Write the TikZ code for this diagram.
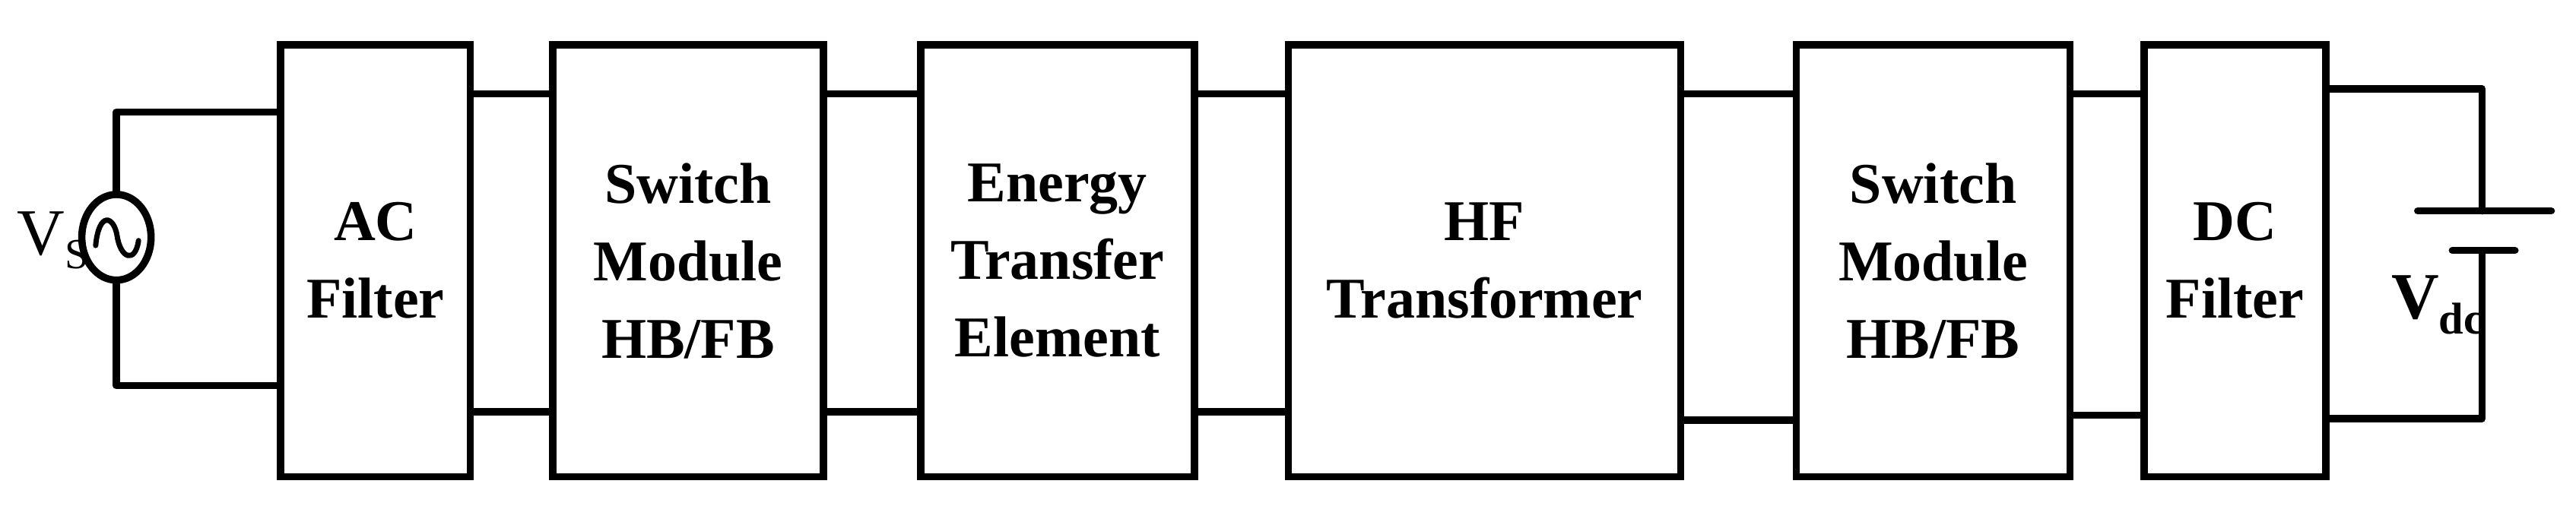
\documentclass[tikz,border=0pt]{standalone}
\usepackage{fontspec}
\usetikzlibrary{shapes.geometric}
\setmainfont{Liberation Serif}
\begin{document}
\begin{tikzpicture}[x=1pt,y=-1pt,line width=4.4pt,
  blk/.style={draw,rectangle,anchor=north west,inner sep=0pt,align=center,font=\fontsize{35}{47}\selectfont\bfseries},
  wire/.style={line cap=round,line join=round}]
\useasboundingbox (0,0) rectangle (1562,307);
\node[blk,minimum width=115pt,minimum height=262pt] (ac) at (168,25) {AC\\Filter};
\node[blk,minimum width=164pt,minimum height=262pt] (sm1) at (333,25) {Switch\\Module\\HB/FB};
\node[blk,minimum width=166pt,minimum height=262pt] (ete) at (556,25) {Energy\\Transfer\\Element};
\node[blk,minimum width=238pt,minimum height=262pt] (hf) at (779,25) {HF\\Transformer};
\node[blk,minimum width=166pt,minimum height=262pt] (sm2) at (1087,25) {Switch\\Module\\HB/FB};
\node[blk,minimum width=110pt,minimum height=262pt] (dc) at (1298,25) {DC\\Filter};
% interconnects
\draw (ac.east |- 0,57) -- (sm1.west |- 0,57);
\draw (ac.east |- 0,250) -- (sm1.west |- 0,250);
\draw (sm1.east |- 0,57) -- (ete.west |- 0,57);
\draw (sm1.east |- 0,250) -- (ete.west |- 0,250);
\draw (ete.east |- 0,57) -- (hf.west |- 0,57);
\draw (ete.east |- 0,250) -- (hf.west |- 0,250);
\draw (hf.east |- 0,57) -- (sm2.west |- 0,57);
\draw (hf.east |- 0,255) -- (sm2.west |- 0,255);
\draw (sm2.east |- 0,57) -- (dc.west |- 0,57);
\draw (sm2.east |- 0,252) -- (dc.west |- 0,252);
% AC source
\node[draw,ellipse,minimum width=42pt,minimum height=52pt,inner sep=0pt] (src) at (70.6,144) {};
\draw[line width=3.2pt,line cap=round] (58,149) .. controls (60,128) and (69,131) .. (71,143) .. controls (73,157) and (82,160) .. (84,146);
\draw[wire] (src.north) -- (70.6,68) -- (ac.west |- 0,68);
\draw[wire] (src.south) -- (70.6,234) -- (ac.west |- 0,234);
\node[font=\fontsize{40}{44}\selectfont] (vs) at (32,146) {V\raisebox{-0.45ex}{\fontsize{26}{28}\selectfont S}};
% battery
\coordinate (bp) at (1505,128);
\coordinate (bn) at (1505,152);
\draw[wire] (dc.east |- 0,54) -- (1505,54) -- (bp);
\draw[wire] (dc.east |- 0,254) -- (1505,254) -- (bn);
\draw[line cap=round] (1466,128) -- (1547,128);
\draw[line cap=round] (1487,152) -- (1525,152);
\node[font=\fontsize{40}{44}\selectfont\bfseries] (vdc) at (1478,185) {V\raisebox{-0.5ex}{\fontsize{27}{30}\selectfont dc}};
\end{tikzpicture}
\end{document}
